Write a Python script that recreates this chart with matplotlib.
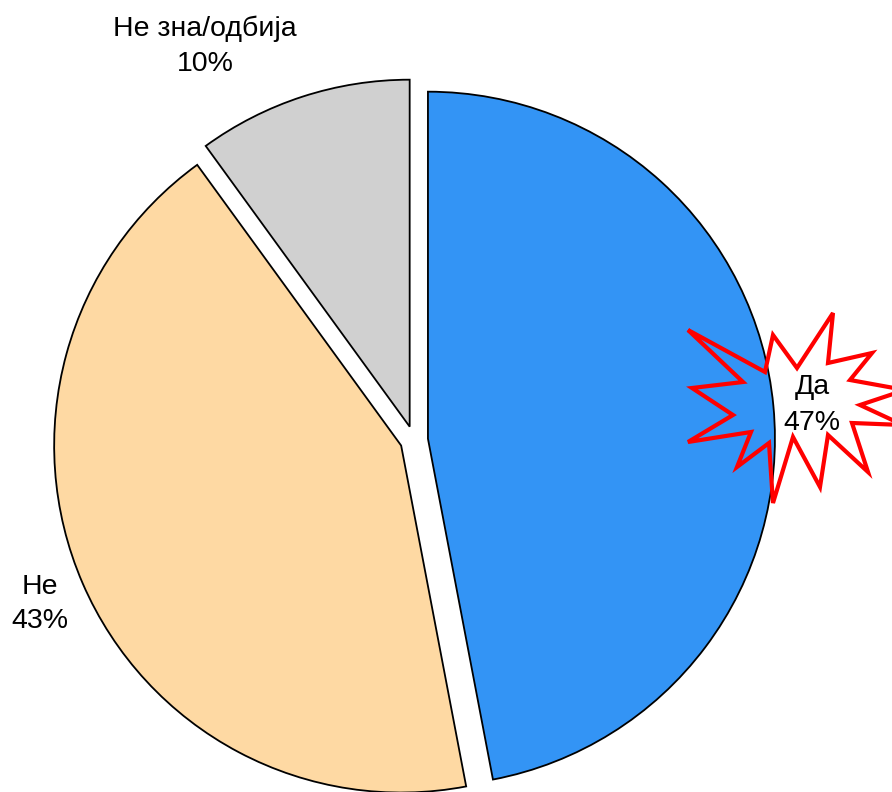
import matplotlib.pyplot as plt

plt.rcParams['font.family'] = ['Liberation Sans', 'DejaVu Sans']

labels = ['Да', 'Не', 'Не зна/одбија']
shares = [47, 43, 10]
colors = ['#3394f5', '#fed9a3', '#d0d0d0']

W, H = 892, 792
# work in pixel units, y measured upward
center = (414, H - 440)
radius = 347

fig = plt.figure(figsize=(W / 100, H / 100), dpi=100)
ax = fig.add_axes([0, 0, 1, 1])
wedges, _ = ax.pie(shares, colors=colors, startangle=90, counterclock=False,
                   explode=[14, 14, 14], center=center, radius=radius,
                   wedgeprops=dict(edgecolor='black', linewidth=1.3))
ax.set_xlim(0, W)
ax.set_ylim(0, H)
ax.set_aspect('equal')
ax.axis('off')

# label positions (pixels, top-left origin)
label_pos = [(812, 405), (40, 604), (205, 46)]
for lab, val, (px, py) in zip(labels, shares, label_pos):
    ax.text(px, H - py, f'{lab}\n{val}%', ha='center', va='center',
            fontsize=20.5, linespacing=1.45, zorder=5)

# starburst around the "Да" label
burst = [(688, 330), (765, 372), (773, 335), (797, 368), (833, 313), (828, 363),
         (872, 353), (850, 380), (905, 390), (860, 405), (903, 425), (852, 423),
         (868, 472), (828, 435), (820, 487), (793, 437), (773, 503), (769, 443),
         (737, 467), (751, 432), (688, 442), (733, 415), (692, 388), (743, 382)]
star = plt.Polygon([(x, H - y) for x, y in burst], closed=True, fill=False,
                   edgecolor='#ff0000', linewidth=3, joinstyle='miter', zorder=4)
ax.add_patch(star)

fig.savefig('out.png', dpi=100)
